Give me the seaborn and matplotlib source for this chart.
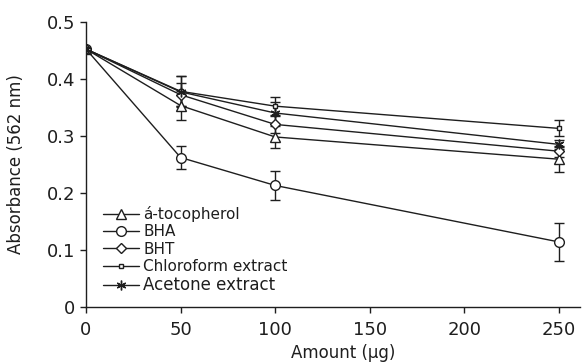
import numpy as np
import pandas as pd
import matplotlib
matplotlib.use("Agg")
import matplotlib.pyplot as plt
import seaborn as sns

amounts = [0, 50, 100, 250]
series_names = ["á-tocopherol", "BHA", "BHT", "Chloroform extract", "Acetone extract"]
tocopherol = [0.452, 0.353, 0.298, 0.259]
bha = [0.452, 0.262, 0.213, 0.114]
bht = [0.452, 0.372, 0.320, 0.273]
chloroform = [0.452, 0.378, 0.352, 0.313]
acetone = [0.452, 0.377, 0.340, 0.285]
tocopherol_err = [0, 0.025, 0.020, 0.022]
bha_err = [0, 0.021, 0.026, 0.033]
bht_err = [0, 0.020, 0.015, 0.010]
chloroform_err = [0, 0.026, 0.016, 0.014]
acetone_err = [0, 0.027, 0.020, 0.008]
x_ticks = [0, 50, 100, 150, 200, 250]
y_ticks = [0, 0.1, 0.2, 0.3, 0.4, 0.5]
y_tick_labels = ["0", "0.1", "0.2", "0.3", "0.4", "0.5"]

values = [tocopherol, bha, bht, chloroform, acetone]
errors = [tocopherol_err, bha_err, bht_err, chloroform_err, acetone_err]

rows = []
for name, vals, errs in zip(series_names, values, errors):
    for a, v, e in zip(amounts, vals, errs):
        rows.append({"Amount": a, "Absorbance": v, "err": e, "Series": name})
df = pd.DataFrame(rows)

sns.set_theme(style="ticks")
plt.rcParams["font.family"] = ["DejaVu Sans"]

ink = "#1e1e1e"
fig = plt.figure(figsize=(5.85, 3.62), dpi=100)
ax = fig.add_axes([0.147, 0.152, 0.844, 0.788])

markers = {
    "á-tocopherol": "^",
    "BHA": "o",
    "BHT": "D",
    "Chloroform extract": "s",
    "Acetone extract": (6, 2, 0),
}
sizes = {"á-tocopherol": 6.5, "BHA": 7, "BHT": 5, "Chloroform extract": 2.2, "Acetone extract": 7}

for name in series_names:
    sub = df[df["Series"] == name]
    ax.errorbar(sub["Amount"], sub["Absorbance"], yerr=sub["err"], fmt="none",
                ecolor=ink, elinewidth=1.0, capsize=3.6, capthick=1.0, zorder=2)

for name in series_names:
    sub = df[df["Series"] == name]
    sns.lineplot(data=sub, x="Amount", y="Absorbance", ax=ax, color=ink,
                 linewidth=1.0, marker=markers[name], markersize=sizes[name],
                 markerfacecolor="white", markeredgecolor=ink,
                 markeredgewidth=1.0, label=name, zorder=3)

ax.set_xlim(0, 261)
ax.set_ylim(0, 0.5)
ax.set_xticks(x_ticks)
ax.set_yticks(y_ticks)
ax.set_xticklabels([str(t) for t in x_ticks])
ax.set_yticklabels(y_tick_labels)
ax.tick_params(axis="both", labelsize=13, colors=ink, length=4, width=1.0, direction="out")
ax.tick_params(axis="x", pad=6)
for s in ["top", "right"]:
    ax.spines[s].set_visible(False)
for s in ["left", "bottom"]:
    ax.spines[s].set_color(ink)
    ax.spines[s].set_linewidth(1.0)

ax.set_xlabel("Amount (μg)", fontsize=12, color=ink, labelpad=0)
ax.xaxis.set_label_coords(0.52, -0.13)
ax.set_ylabel("Absorbance (562 nm)", fontsize=12, color=ink)
ax.yaxis.set_label_coords(-0.123, 0.5)

leg = ax.legend(loc="lower left", bbox_to_anchor=(0.034, 0.045), frameon=False,
                fontsize=11, handlelength=2.4, handletextpad=0.25,
                labelspacing=0.15, borderaxespad=0, borderpad=0)
for t in leg.get_texts():
    t.set_color(ink)
leg.get_texts()[-1].set_fontsize(12)

fig.savefig("out.png", dpi=100)
